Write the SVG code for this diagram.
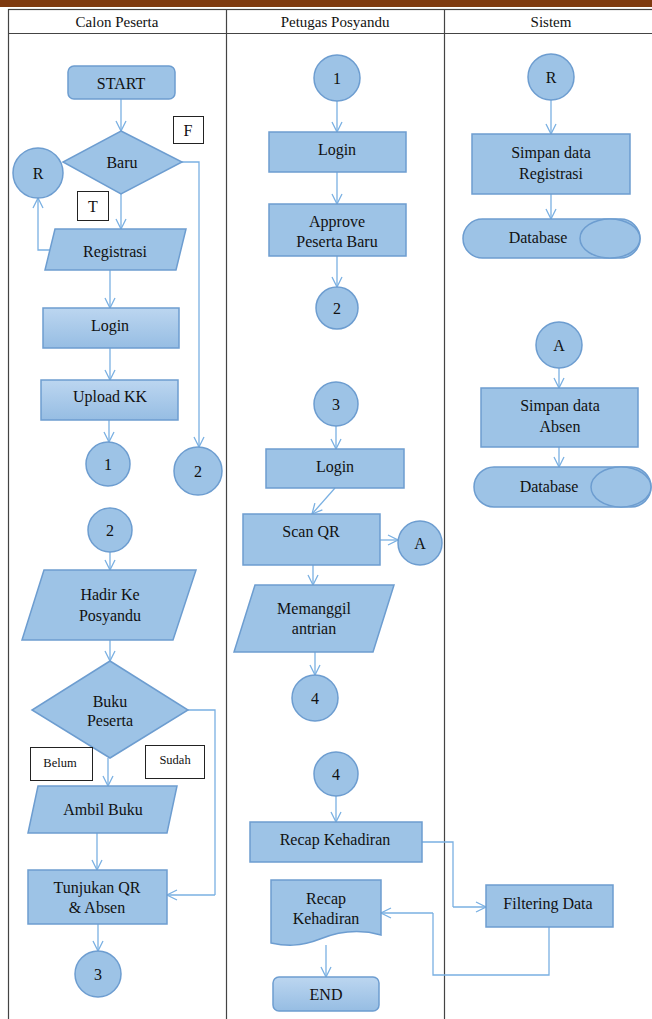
<svg xmlns="http://www.w3.org/2000/svg" width="652" height="1019" viewBox="0 0 652 1019" font-family="Liberation Serif, DejaVu Serif, serif">
<defs>
<style>
.s{fill:#9DC3E6;stroke:#6D9DD0;stroke-width:1.5}
.g{fill:url(#grad);stroke:#6D9DD0;stroke-width:1.5}
.t{font-family:'Liberation Serif','DejaVu Serif',serif;font-size:16px;fill:#111;text-anchor:middle}
.h{font-family:'Liberation Serif','DejaVu Serif',serif;font-size:15px;fill:#111;text-anchor:middle}
.sm{font-family:'Liberation Serif','DejaVu Serif',serif;font-size:12.5px;fill:#111;text-anchor:middle}
.lb{fill:#fff;stroke:#222;stroke-width:1}
.c{fill:none;stroke:#7AB0E2;stroke-width:1.3;marker-end:url(#ah)}
.cn{fill:none;stroke:#7AB0E2;stroke-width:1.3}
</style>
<linearGradient id="grad" x1="0" y1="0" x2="0" y2="1">
<stop offset="0" stop-color="#BCD6F0"/>
<stop offset="1" stop-color="#96BDE3"/>
</linearGradient>
<marker id="ah" viewBox="0 0 12 12" refX="11" refY="6" markerWidth="12" markerHeight="12" markerUnits="userSpaceOnUse" orient="auto">
<path d="M1,1 L11,6 L1,11" fill="none" stroke="#7AB0E2" stroke-width="1.3"/>
</marker>
</defs>
<rect x="0" y="0" width="652" height="1019" fill="#fff"/>
<rect x="0" y="0" width="652" height="7" fill="#7E3A10"/>
<g id="table" fill="none" stroke="#444" stroke-width="1.2">
<rect x="8.5" y="9.5" width="650" height="1015"/>
<line x1="8.5" y1="33.5" x2="652" y2="33.5"/>
<line x1="226.5" y1="9.5" x2="226.5" y2="1019"/>
<line x1="444.5" y1="9.5" x2="444.5" y2="1019"/>
</g>
<g id="headers">
<text class="h" x="117" y="27">Calon Peserta</text>
<text class="h" x="335" y="27">Petugas Posyandu</text>
<text class="h" x="551" y="27">Sistem</text>
</g>
<g id="connectors">
<path class="c" d="M121,99 V131"/>
<path class="c" d="M121,194 V229"/>
<path class="c" d="M50,250 H38 V198"/>
<path class="c" d="M110,270 V308"/>
<path class="c" d="M110,348 V380"/>
<path class="c" d="M109,420 V442"/>
<path class="c" d="M182,162 H199 V447"/>
<path class="c" d="M110,552 V570"/>
<path class="c" d="M110,640 V661"/>
<path class="c" d="M108,758 V786"/>
<path class="c" d="M97,833 V870"/>
<path class="cn" d="M188,710 H215 V895"/>
<path class="c" d="M215,895 H167"/>
<path class="c" d="M98,924 V951"/>
<path class="c" d="M337,101 V132"/>
<path class="c" d="M337,172 V204"/>
<path class="c" d="M337,256 V287"/>
<path class="c" d="M336,426 V449"/>
<path class="c" d="M335,488 L312,514"/>
<path class="c" d="M380,540 H398"/>
<path class="c" d="M313,565 V585"/>
<path class="c" d="M315,652 V675"/>
<path class="c" d="M336,796 V822"/>
<path class="cn" d="M422,842 H453 V907"/>
<path class="c" d="M453,907 H486"/>
<path class="cn" d="M549,927 V975 H433 V913"/>
<path class="c" d="M433,913 H381"/>
<path class="c" d="M326,945 V977"/>
<path class="c" d="M551,100 V134"/>
<path class="c" d="M551,194 V219"/>
<path class="c" d="M559,368 V388"/>
<path class="c" d="M559,447 V467"/>
</g>
<g id="start"><rect class="s" x="68" y="66" width="107" height="33" rx="6"/><text class="t" x="121" y="89">START</text></g>
<g id="labelF"><rect class="lb" x="173.5" y="116.5" width="30" height="27"/><text class="t" x="188" y="136">F</text></g>
<g id="baru"><polygon class="s" points="121,131 182,162 121,194 63,162"/><text class="t" x="122" y="168">Baru</text></g>
<g id="connR1"><circle class="s" cx="38" cy="173" r="25"/><text class="t" x="38" y="179">R</text></g>
<g id="labelT"><rect class="lb" x="77.5" y="191.5" width="31" height="29"/><text class="t" x="93" y="212">T</text></g>
<g id="registrasi"><polygon class="s" points="55,229 186,229 176,270 45,270"/><text class="t" x="115" y="257">Registrasi</text></g>
<g id="login1"><rect class="g" x="43" y="308" width="136" height="40"/><text class="t" x="110" y="331">Login</text></g>
<g id="uploadkk"><rect class="g" x="41" y="380" width="137" height="40"/><text class="t" x="110" y="402">Upload KK</text></g>
<g id="conn1a"><circle class="s" cx="108" cy="464" r="22"/><text class="t" x="108" y="470">1</text></g>
<g id="conn2a"><circle class="s" cx="198" cy="471" r="24"/><text class="t" x="198" y="477">2</text></g>
<g id="conn2b"><circle class="s" cx="110" cy="530" r="22"/><text class="t" x="110" y="536">2</text></g>
<g id="hadir"><polygon class="s" points="44,570 196,570 173,640 22,640"/><text class="t" x="110" y="600">Hadir Ke</text><text class="t" x="110" y="621">Posyandu</text></g>
<g id="buku"><polygon class="s" points="110,661 188,710 110,758 32,710"/><text class="t" x="110" y="707">Buku</text><text class="t" x="110" y="726">Peserta</text></g>
<g id="labelBelum"><rect class="lb" x="30.5" y="747.5" width="62" height="33"/><text class="sm" x="60" y="767">Belum</text></g>
<g id="labelSudah"><rect class="lb" x="145.5" y="745.5" width="59" height="33"/><text class="sm" x="175" y="764">Sudah</text></g>
<g id="ambilbuku"><polygon class="s" points="38,786 177,786 167,833 28,833"/><text class="t" x="103" y="815">Ambil Buku</text></g>
<g id="tunjukan"><rect class="s" x="28" y="870" width="139" height="54"/><text class="t" x="97" y="893">Tunjukan QR</text><text class="t" x="97" y="913">&amp; Absen</text></g>
<g id="conn3a"><circle class="s" cx="98" cy="974" r="23"/><text class="t" x="98" y="980">3</text></g>
<g id="conn1b"><circle class="s" cx="337" cy="78" r="23"/><text class="t" x="337" y="84">1</text></g>
<g id="login2"><rect class="s" x="269" y="132" width="137" height="40"/><text class="t" x="337" y="155">Login</text></g>
<g id="approve"><rect class="s" x="269" y="204" width="137" height="52"/><text class="t" x="337" y="227">Approve</text><text class="t" x="337" y="247">Peserta Baru</text></g>
<g id="conn2c"><circle class="s" cx="337" cy="308" r="21"/><text class="t" x="337" y="314">2</text></g>
<g id="conn3b"><circle class="s" cx="336" cy="404" r="22"/><text class="t" x="336" y="410">3</text></g>
<g id="login3"><rect class="s" x="266" y="449" width="138" height="39"/><text class="t" x="335" y="472">Login</text></g>
<g id="scanqr"><rect class="s" x="243" y="514" width="137" height="51"/><text class="t" x="311" y="537">Scan QR</text></g>
<g id="connA1"><circle class="s" cx="420" cy="543" r="22"/><text class="t" x="420" y="549">A</text></g>
<g id="memanggil"><polygon class="s" points="255,585 394,585 373,652 234,652"/><text class="t" x="314" y="614">Memanggil</text><text class="t" x="314" y="634">antrian</text></g>
<g id="conn4a"><circle class="s" cx="315" cy="698" r="23"/><text class="t" x="315" y="704">4</text></g>
<g id="conn4b"><circle class="s" cx="336" cy="774" r="22"/><text class="t" x="336" y="780">4</text></g>
<g id="recaprect"><rect class="s" x="250" y="822" width="172" height="40"/><text class="t" x="335" y="845">Recap Kehadiran</text></g>
<g id="recapdoc"><path class="s" d="M271,880 H381 V935 C360,929 340,931 320,939 C300,947 285,946 271,943 Z"/><text class="t" x="326" y="904">Recap</text><text class="t" x="326" y="924">Kehadiran</text></g>
<g id="end"><rect class="g" x="273" y="977" width="106" height="34" rx="6"/><text class="t" x="326" y="1000">END</text></g>
<g id="connR2"><circle class="s" cx="551" cy="77" r="23"/><text class="t" x="551" y="83">R</text></g>
<g id="simpanreg"><rect class="s" x="472" y="134" width="158" height="60"/><text class="t" x="551" y="158">Simpan data</text><text class="t" x="551" y="179">Registrasi</text></g>
<g id="database1"><rect class="s" x="463" y="219" width="177" height="39" rx="19.5"/><ellipse class="s" cx="610" cy="238.5" rx="30" ry="19.5"/><text class="t" x="538" y="243">Database</text></g>
<g id="connA2"><circle class="s" cx="559" cy="345" r="23"/><text class="t" x="559" y="351">A</text></g>
<g id="simpanabsen"><rect class="s" x="481" y="388" width="157" height="59"/><text class="t" x="560" y="411">Simpan data</text><text class="t" x="560" y="432">Absen</text></g>
<g id="database2"><rect class="s" x="474" y="467" width="177" height="40" rx="20"/><ellipse class="s" cx="621" cy="487" rx="30" ry="20"/><text class="t" x="549" y="492">Database</text></g>
<g id="filtering"><rect class="s" x="486" y="885" width="127" height="42"/><text class="t" x="548" y="909">Filtering Data</text></g>
</svg>
